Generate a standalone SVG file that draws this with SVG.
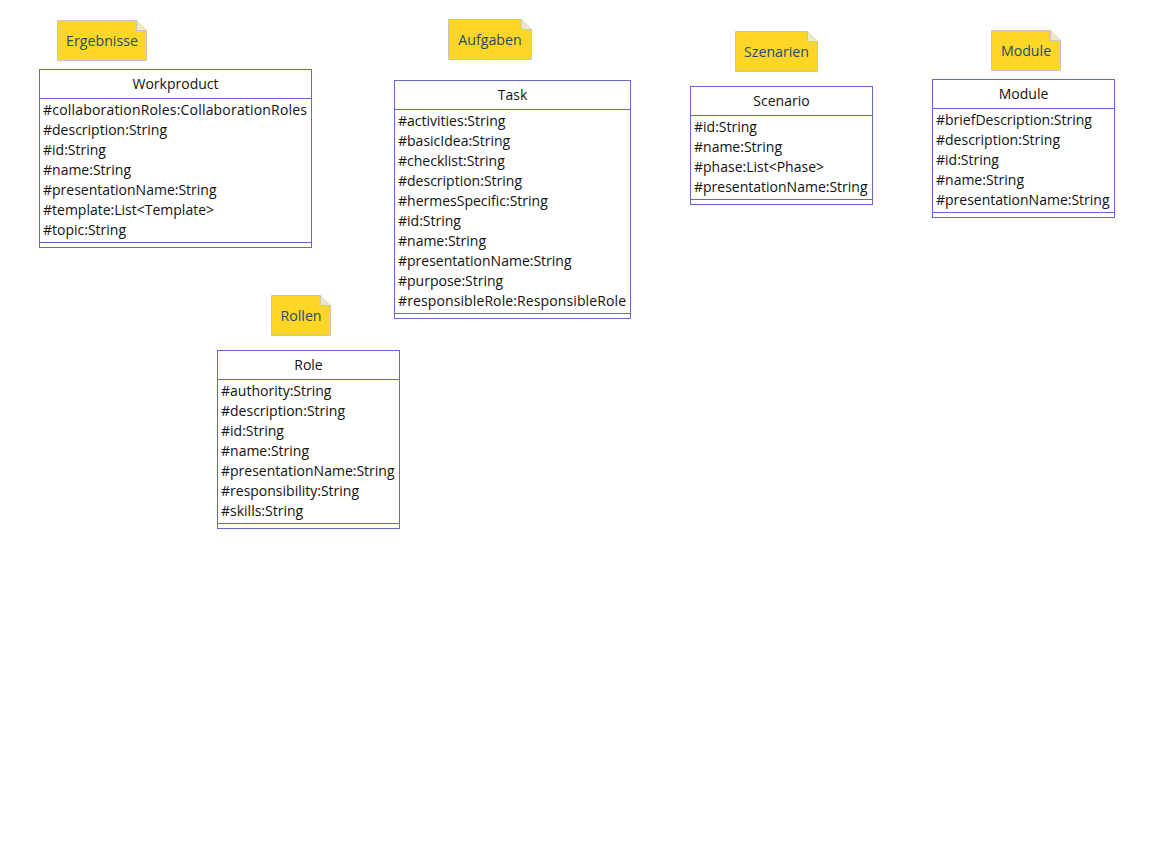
<svg xmlns="http://www.w3.org/2000/svg" width="1153" height="842" viewBox="0 0 1153 842">
<style>
.box{fill:#fff;stroke:#6666cc;stroke-width:1}
.sep{stroke:#6666cc;stroke-width:1}
.note{fill:#fdd628;stroke:#c4c4c4;stroke-width:1}
.fold{fill:#eee9c0;stroke:#c4c4c4;stroke-width:1}
.t{font-family:"Open Sans","Noto Sans",sans-serif;font-size:14px;fill:#111}
.h{text-anchor:middle}
.n{font-family:"Open Sans","Noto Sans",sans-serif;font-size:14.2px;fill:#1d4e66;text-anchor:middle}
</style>
<rect width="1153" height="842" fill="#fff"/>
<g id="connectors"></g>

<g id="note-ergebnisse">
<path class="note" d="M57.5,20.5 H136.5 L146.5,30.5 V60.5 H57.5 Z"/>
<path class="fold" d="M136.5,20.5 V30.5 H146.5"/>
<text class="n" x="102" y="46">Ergebnisse</text>
</g>
<g id="workproduct">
<rect class="box" x="39.5" y="69.5" width="272" height="178"/>
<line class="sep" x1="39.5" y1="98.5" x2="311.5" y2="98.5"/>
<line class="sep" x1="39.5" y1="242.5" x2="311.5" y2="242.5"/>
<text class="t h" x="175.5" y="89">Workproduct</text>
<text class="t" x="43" y="115" textLength="264" lengthAdjust="spacing">#collaborationRoles:CollaborationRoles</text>
<text class="t" x="43" y="135">#description:String</text>
<text class="t" x="43" y="155">#id:String</text>
<text class="t" x="43" y="175">#name:String</text>
<text class="t" x="43" y="195">#presentationName:String</text>
<text class="t" x="43" y="215">#template:List&lt;Template&gt;</text>
<text class="t" x="43" y="235">#topic:String</text>
</g>

<g id="note-aufgaben">
<path class="note" d="M448.5,19.5 H521.5 L531.5,29.5 V59.5 H448.5 Z"/>
<path class="fold" d="M521.5,19.5 V29.5 H531.5"/>
<text class="n" x="490" y="45">Aufgaben</text>
</g>
<g id="task">
<rect class="box" x="394.5" y="80.5" width="236" height="238"/>
<line class="sep" x1="394.5" y1="109.5" x2="630.5" y2="109.5"/>
<line class="sep" x1="394.5" y1="313.5" x2="630.5" y2="313.5"/>
<text class="t h" x="512.5" y="100">Task</text>
<text class="t" x="398" y="126">#activities:String</text>
<text class="t" x="398" y="146">#basicIdea:String</text>
<text class="t" x="398" y="166">#checklist:String</text>
<text class="t" x="398" y="186">#description:String</text>
<text class="t" x="398" y="206">#hermesSpecific:String</text>
<text class="t" x="398" y="226">#id:String</text>
<text class="t" x="398" y="246">#name:String</text>
<text class="t" x="398" y="266">#presentationName:String</text>
<text class="t" x="398" y="286">#purpose:String</text>
<text class="t" x="398" y="306" textLength="228" lengthAdjust="spacing">#responsibleRole:ResponsibleRole</text>
</g>

<g id="note-szenarien">
<path class="note" d="M735.5,31.5 H807.5 L817.5,41.5 V71.5 H735.5 Z"/>
<path class="fold" d="M807.5,31.5 V41.5 H817.5"/>
<text class="n" x="776.5" y="57">Szenarien</text>
</g>
<g id="scenario">
<rect class="box" x="690.5" y="86.5" width="182" height="118"/>
<line class="sep" x1="690.5" y1="115.5" x2="872.5" y2="115.5"/>
<line class="sep" x1="690.5" y1="199.5" x2="872.5" y2="199.5"/>
<text class="t h" x="781.5" y="106">Scenario</text>
<text class="t" x="694" y="132">#id:String</text>
<text class="t" x="694" y="152">#name:String</text>
<text class="t" x="694" y="172">#phase:List&lt;Phase&gt;</text>
<text class="t" x="694" y="192">#presentationName:String</text>
</g>

<g id="note-module">
<path class="note" d="M991.5,30.5 H1050.5 L1060.5,40.5 V70.5 H991.5 Z"/>
<path class="fold" d="M1050.5,30.5 V40.5 H1060.5"/>
<text class="n" x="1026" y="56">Module</text>
</g>
<g id="module">
<rect class="box" x="932.5" y="79.5" width="182" height="138"/>
<line class="sep" x1="932.5" y1="108.5" x2="1114.5" y2="108.5"/>
<line class="sep" x1="932.5" y1="212.5" x2="1114.5" y2="212.5"/>
<text class="t h" x="1023.5" y="99">Module</text>
<text class="t" x="936" y="125">#briefDescription:String</text>
<text class="t" x="936" y="145">#description:String</text>
<text class="t" x="936" y="165">#id:String</text>
<text class="t" x="936" y="185">#name:String</text>
<text class="t" x="936" y="205">#presentationName:String</text>
</g>

<g id="note-rollen">
<path class="note" d="M271.5,295.5 H320.5 L330.5,305.5 V335.5 H271.5 Z"/>
<path class="fold" d="M320.5,295.5 V305.5 H330.5"/>
<text class="n" x="301" y="321">Rollen</text>
</g>
<g id="role">
<rect class="box" x="217.5" y="350.5" width="182" height="178"/>
<line class="sep" x1="217.5" y1="379.5" x2="399.5" y2="379.5"/>
<line class="sep" x1="217.5" y1="523.5" x2="399.5" y2="523.5"/>
<text class="t h" x="308.5" y="370">Role</text>
<text class="t" x="221" y="396">#authority:String</text>
<text class="t" x="221" y="416">#description:String</text>
<text class="t" x="221" y="436">#id:String</text>
<text class="t" x="221" y="456">#name:String</text>
<text class="t" x="221" y="476">#presentationName:String</text>
<text class="t" x="221" y="496">#responsibility:String</text>
<text class="t" x="221" y="516">#skills:String</text>
</g>
</svg>
